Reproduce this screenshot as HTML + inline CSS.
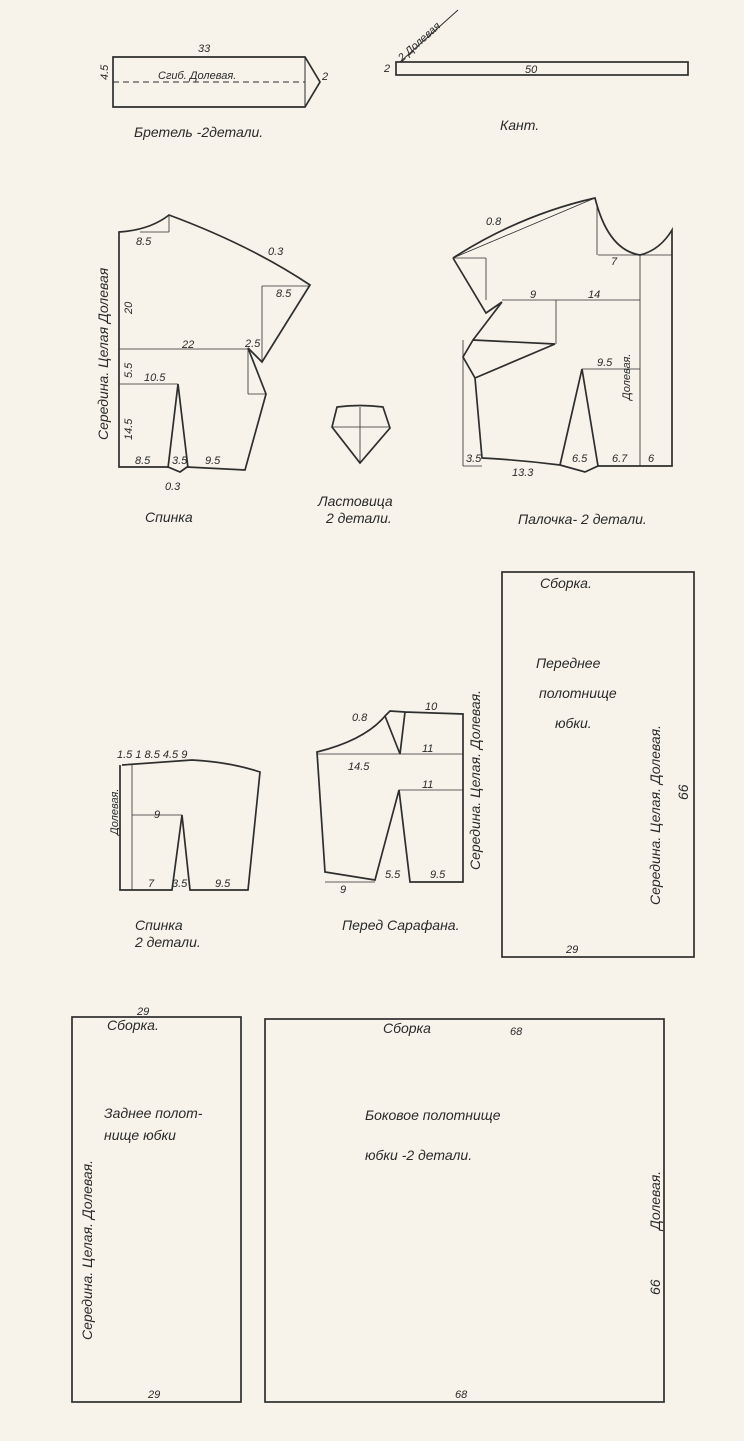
<!DOCTYPE html>
<html><head><meta charset="utf-8"><style>
html,body{margin:0;padding:0;background:#f7f3ea;}
svg{display:block}
text{font-family:"Liberation Sans",sans-serif;font-style:italic;fill:#2a2a2a}
.s{font-size:11px}.m{font-size:14px}.l{font-size:15px}
</style></head><body>
<svg width="744" height="1441" viewBox="0 0 744 1441" xmlns="http://www.w3.org/2000/svg">
<rect width="744" height="1441" fill="#f7f3ea"/>
<g fill="none" stroke="#2e2e2e" stroke-width="1.7">
<!-- Bretel -->
<path d="M113,57 L305,57 L320,82 L305,107 L113,107 Z"/>
<line x1="305" y1="57" x2="305" y2="107" stroke-width="1"/>
<line x1="113" y1="82" x2="305" y2="82" stroke-dasharray="6,4" stroke-width="1"/>
<!-- Kant -->
<rect x="396" y="62" width="292" height="13"/>
<line x1="400" y1="62" x2="458" y2="10" stroke-width="1"/>
<!-- Spinka -->
<path d="M119,232 Q150,230 169,215 Q250,245 310,285 L262,362 L248,348 L266,394 L245,470 L187,467 L180,472 L168,467 L119,467 Z"/>
<path d="M178,384 L168,468 M178,384 L188,468"/>
<g stroke-width="0.8">
<line x1="119" y1="349" x2="248" y2="349"/><line x1="119" y1="384" x2="178" y2="384"/>
<line x1="169" y1="215" x2="169" y2="232"/><line x1="140" y1="232" x2="169" y2="232"/>
<line x1="262" y1="286" x2="262" y2="362"/><line x1="262" y1="286" x2="310" y2="286"/>
<line x1="248" y1="348" x2="248" y2="394"/><line x1="248" y1="394" x2="266" y2="394"/>
</g>
<!-- Lastovitsa -->
<path d="M337,407 Q360,404 383,407 L390,428 L360,463 L332,427 Z"/>
<g stroke-width="0.8"><line x1="360" y1="407" x2="360" y2="463"/><line x1="332" y1="427" x2="390" y2="427"/></g>
<!-- Polochka -->
<path d="M453,258 Q520,215 595,198 Q608,250 640,255 Q660,250 672,230 L672,466 L598,466 L585,472 L560,465 Q520,460 482,458 L475,378 L463,357 L473,340 L555,344 L475,378 M473,340 L502,302 M453,258 L486,313 L502,302"/>
<path d="M582,369 L560,465 M582,369 L598,466"/>
<g stroke-width="0.8">
<line x1="502" y1="300" x2="640" y2="300"/><line x1="556" y1="300" x2="556" y2="344"/>
<line x1="640" y1="255" x2="640" y2="466"/><line x1="598" y1="255" x2="672" y2="255"/>
<line x1="597" y1="205" x2="597" y2="255"/><line x1="582" y1="369" x2="640" y2="369"/>
<line x1="463" y1="340" x2="463" y2="466"/><line x1="463" y1="466" x2="482" y2="466"/>
<line x1="486" y1="258" x2="486" y2="300"/><line x1="453" y1="258" x2="486" y2="258"/>
<line x1="453" y1="258" x2="595" y2="198"/>
</g>
<!-- Spinka small -->
<path d="M120,765 L120,890 L172,890 L182,815 L190,890 L248,890 L260,772 Q230,762 192,760 L122,765"/>
<g stroke-width="0.8"><line x1="132" y1="765" x2="132" y2="890"/><line x1="132" y1="815" x2="182" y2="815"/></g>
<!-- Pered sarafana -->
<path d="M317,752 Q365,740 385,716 L400,754 L405,712 L463,714 L463,882 L410,882 L399,790 L375,880 Q350,876 325,872 Z M385,716 L390,711 L405,712"/>
<g stroke-width="0.8">
<line x1="317" y1="754" x2="463" y2="754"/><line x1="399" y1="790" x2="463" y2="790"/>
<line x1="325" y1="882" x2="375" y2="882"/>
</g>
<!-- Rectangles -->
<rect x="502" y="572" width="192" height="385"/>
<rect x="72" y="1017" width="169" height="385"/>
<rect x="265" y="1019" width="399" height="383"/>
</g>
<!-- texts -->
<text x="198" y="52" class="s">33</text>
<text x="158" y="79" class="s">Сгиб. Долевая.</text>
<text x="322" y="80" class="s">2</text>
<text x="108" y="80" class="s" transform="rotate(-90 108 80)">4.5</text>
<text x="134" y="137" class="m">Бретель -2детали.</text>
<text x="525" y="73" class="s">50</text>
<text x="384" y="72" class="s">2</text>
<text x="402" y="62" class="s" transform="rotate(-42 402 62)">2 Долевая</text>
<text x="500" y="130" class="m">Кант.</text>
<text x="108" y="440" class="m" transform="rotate(-90 108 440)">Середина. Целая Долевая</text>
<text x="136" y="245" class="s">8.5</text><text x="182" y="348" class="s">22</text>
<text x="144" y="381" class="s">10.5</text><text x="135" y="464" class="s">8.5</text>
<text x="172" y="464" class="s">3.5</text><text x="205" y="464" class="s">9.5</text>
<text x="165" y="490" class="s">0.3</text><text x="268" y="255" class="s">0.3</text>
<text x="276" y="297" class="s">8.5</text><text x="245" y="347" class="s">2.5</text>
<text x="132" y="314" class="s" transform="rotate(-90 132 314)">20</text>
<text x="132" y="378" class="s" transform="rotate(-90 132 378)">5.5</text>
<text x="132" y="440" class="s" transform="rotate(-90 132 440)">14.5</text>
<text x="145" y="522" class="m">Спинка</text>
<text x="318" y="506" class="m">Ластовица</text><text x="326" y="523" class="m">2 детали.</text>
<text x="486" y="225" class="s">0.8</text><text x="588" y="298" class="s">14</text>
<text x="530" y="298" class="s">9</text><text x="597" y="366" class="s">9.5</text>
<text x="512" y="476" class="s">13.3</text><text x="572" y="462" class="s">6.5</text>
<text x="612" y="462" class="s">6.7</text><text x="466" y="462" class="s">3.5</text>
<text x="648" y="462" class="s">6</text><text x="611" y="265" class="s">7</text>
<text x="630" y="400" class="s" transform="rotate(-90 630 400)">Долевая.</text>
<text x="518" y="524" class="m">Палочка- 2 детали.</text>
<text x="117" y="758" class="s">1.5  1  8.5     4.5          9</text>
<text x="118" y="835" class="s" transform="rotate(-90 118 835)">Долевая.</text>
<text x="148" y="887" class="s">7</text><text x="172" y="887" class="s">3.5</text><text x="215" y="887" class="s">9.5</text>
<text x="154" y="818" class="s">9</text>
<text x="135" y="930" class="m">Спинка</text><text x="135" y="947" class="m">2 детали.</text>
<text x="352" y="721" class="s">0.8</text><text x="425" y="710" class="s">10</text>
<text x="348" y="770" class="s">14.5</text><text x="422" y="752" class="s">11</text>
<text x="422" y="788" class="s">11</text><text x="340" y="893" class="s">9</text>
<text x="430" y="878" class="s">9.5</text><text x="385" y="878" class="s">5.5</text>
<text x="480" y="870" class="m" transform="rotate(-90 480 870)">Середина. Целая. Долевая.</text>
<text x="342" y="930" class="m">Перед Сарафана.</text>
<text x="540" y="588" class="m">Сборка.</text>
<text x="536" y="668" class="m">Переднее</text><text x="539" y="698" class="m">полотнище</text><text x="555" y="728" class="m">юбки.</text>
<text x="660" y="905" class="m" transform="rotate(-90 660 905)">Середина. Целая. Долевая.</text>
<text x="688" y="800" class="m" transform="rotate(-90 688 800)">66</text>
<text x="566" y="953" class="s">29</text>
<text x="137" y="1015" class="s">29</text><text x="107" y="1030" class="m">Сборка.</text>
<text x="104" y="1118" class="m">Заднее полот-</text><text x="104" y="1140" class="m">нище юбки</text>
<text x="92" y="1340" class="m" transform="rotate(-90 92 1340)">Середина. Целая. Долевая.</text>
<text x="148" y="1398" class="s">29</text>
<text x="383" y="1033" class="m">Сборка</text><text x="510" y="1035" class="s">68</text>
<text x="365" y="1120" class="m">Боковое полотнище</text><text x="365" y="1160" class="m">юбки -2 детали.</text>
<text x="660" y="1230" class="m" transform="rotate(-90 660 1230)">Долевая.</text>
<text x="660" y="1295" class="m" transform="rotate(-90 660 1295)">66</text>
<text x="455" y="1398" class="s">68</text>
</svg>
</body></html>
